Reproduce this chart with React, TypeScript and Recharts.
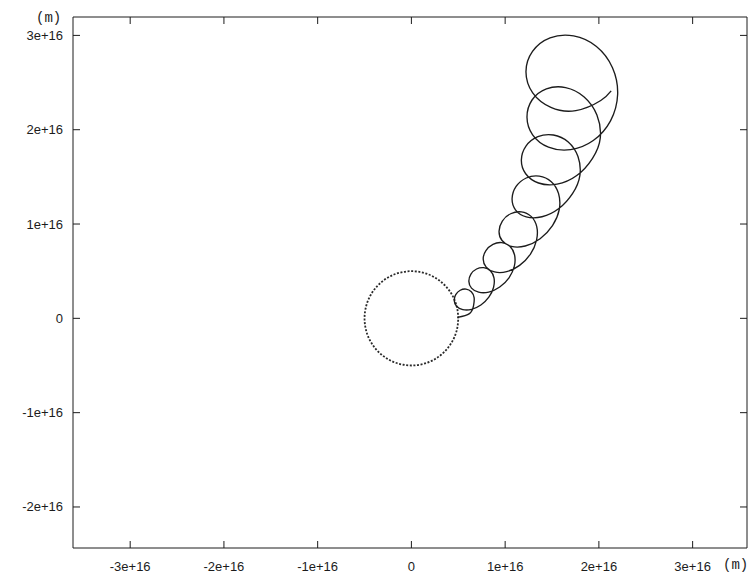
import { LineChart, Line, XAxis, YAxis } from 'recharts'

// every value below is in units of 1e16 m
const xTicks = [-3, -2, -1, 0, 1, 2, 3]
const yTicks = [-2, -1, 0, 1, 2, 3]
const xRange = [-3.61, 3.58]
const yRange = [-2.435, 3.195]

// starting orbit (dotted), radius about 0.5e16
const circleX = [
  0.5, 0.492, 0.47, 0.433, 0.383, 0.321, 0.25, 0.171, 0.087, 0, -0.087, -0.171, -0.25, -0.321, -0.383, -0.433,
  -0.47, -0.492, -0.5, -0.492, -0.47, -0.433, -0.383, -0.321, -0.25, -0.171, -0.087, 0, 0.087, 0.171, 0.25, 0.321,
  0.383, 0.433, 0.47, 0.492, 0.5,
]
const circleY = [
  0, 0.087, 0.171, 0.25, 0.321, 0.383, 0.433, 0.47, 0.492, 0.5, 0.492, 0.47, 0.433, 0.383, 0.321, 0.25, 0.171,
  0.087, 0, -0.087, -0.171, -0.25, -0.321, -0.383, -0.433, -0.47, -0.492, -0.5, -0.492, -0.47, -0.433, -0.383,
  -0.321, -0.25, -0.171, -0.087, 0,
]

// looping path leaving the orbit (one row per loop)
const pathX = [
  0.49,
  0.619, 0.663, 0.669, 0.639, 0.583, 0.521, 0.473, 0.457, 0.482, 0.548, 0.641, 0.741, 0.826,
  0.876, 0.881, 0.842, 0.772, 0.695, 0.635, 0.613, 0.641, 0.717, 0.825, 0.942, 1.041,
  1.098, 1.1, 1.05, 0.964, 0.87, 0.795, 0.766, 0.798, 0.887, 1.016, 1.154, 1.27,
  1.335, 1.337, 1.277, 1.173, 1.059, 0.97, 0.935, 0.967, 1.067, 1.214, 1.373, 1.505,
  1.577, 1.57, 1.492, 1.364, 1.225, 1.117, 1.074, 1.11, 1.225, 1.393, 1.573, 1.72,
  1.797, 1.777, 1.673, 1.515, 1.349, 1.222, 1.173, 1.219, 1.356, 1.554, 1.764, 1.932,
  2.015, 1.979, 1.843, 1.645, 1.44, 1.287, 1.233, 1.293, 1.462, 1.698, 1.94, 2.124,
  2.2, 2.145, 1.974, 1.73, 1.479, 1.292, 1.222, 1.294, 1.488, 1.754, 2.02, 2.131,
]
const pathY = [
  0.01,
  0.05, 0.136, 0.22, 0.282, 0.31, 0.298, 0.252, 0.188, 0.129, 0.093, 0.095, 0.141, 0.224,
  0.327, 0.428, 0.504, 0.537, 0.523, 0.469, 0.392, 0.32, 0.277, 0.278, 0.332, 0.43,
  0.553, 0.674, 0.764, 0.803, 0.785, 0.719, 0.627, 0.543, 0.492, 0.495, 0.562, 0.681,
  0.829, 0.972, 1.081, 1.129, 1.109, 1.032, 0.924, 0.825, 0.763, 0.767, 0.844, 0.984,
  1.152, 1.322, 1.449, 1.508, 1.488, 1.398, 1.27, 1.151, 1.076, 1.077, 1.164, 1.325,
  1.514, 1.715, 1.87, 1.944, 1.926, 1.826, 1.678, 1.533, 1.435, 1.423, 1.514, 1.697,
  1.914, 2.156, 2.348, 2.447, 2.433, 2.315, 2.132, 1.946, 1.815, 1.788, 1.885, 2.094,
  2.373, 2.658, 2.883, 2.995, 2.974, 2.831, 2.615, 2.391, 2.237, 2.203, 2.31, 2.411,
]

const rows = [
  ...circleX.map((x, i) => ({ x, circle: circleY[i] })),
  ...pathX.map((x, i) => ({ x, path: pathY[i] })),
]

const ink = '#1c1c1c'
const font = '"Liberation Sans", Arial, sans-serif'
const fmt = (v: number) => (v === 0 ? '0' : `${v}e+16`)

// gnuplot style: ticks point inwards on all four sides
function BottomTick({ x, y, payload }: any) {
  return (
    <g>
      <line x1={x} x2={x} y1={y - 18} y2={y - 25} stroke={ink} />
      <text x={x} y={y} textAnchor="middle" dominantBaseline="central" fontSize={13} fontFamily={font} fill={ink}>
        {fmt(payload.value)}
      </text>
    </g>
  )
}

function LeftTick({ x, y, payload }: any) {
  return (
    <g>
      <line x1={x + 10} x2={x + 17} y1={y} y2={y} stroke={ink} />
      <text x={x} y={y} textAnchor="end" dominantBaseline="central" fontSize={13} fontFamily={font} fill={ink}>
        {fmt(payload.value)}
      </text>
    </g>
  )
}

const TopTick = ({ x, y }: any) => <line x1={x} x2={x} y1={y} y2={y + 7} stroke={ink} />
const RightTick = ({ x, y }: any) => <line x1={x} x2={x - 7} y1={y} y2={y} stroke={ink} />

const unitStyle = { position: 'absolute', font: '14px "Liberation Mono", monospace', color: ink } as const

export default function App() {
  return (
    <div style={{ position: 'absolute', left: 0, top: 0, width: 754, height: 577, background: '#fff' }}>
      <LineChart width={754} height={577} data={rows} margin={{ top: 16, right: 3, bottom: 0, left: 0 }}>
        <XAxis
          xAxisId="b"
          dataKey="x"
          type="number"
          domain={xRange}
          ticks={xTicks}
          interval={0}
          allowDataOverflow
          height={29}
          tickSize={0}
          tickMargin={18}
          tickLine={false}
          axisLine={{ stroke: ink }}
          tick={BottomTick}
        />
        <XAxis
          xAxisId="t"
          orientation="top"
          dataKey="x"
          type="number"
          domain={xRange}
          ticks={xTicks}
          interval={0}
          allowDataOverflow
          height={1}
          tickSize={0}
          tickMargin={0}
          tickLine={false}
          axisLine={{ stroke: ink }}
          tick={TopTick}
        />
        <YAxis
          yAxisId="l"
          type="number"
          domain={yRange}
          ticks={yTicks}
          interval={0}
          allowDataOverflow
          width={73}
          tickSize={0}
          tickMargin={10}
          tickLine={false}
          axisLine={{ stroke: ink }}
          tick={LeftTick}
        />
        <YAxis
          yAxisId="r"
          orientation="right"
          type="number"
          domain={yRange}
          ticks={yTicks}
          interval={0}
          allowDataOverflow
          width={4}
          tickSize={0}
          tickMargin={0}
          tickLine={false}
          axisLine={{ stroke: ink }}
          tick={RightTick}
        />
        <Line
          xAxisId="b"
          yAxisId="l"
          dataKey="circle"
          type="natural"
          stroke="#2a2a2a"
          strokeWidth={1.8}
          strokeDasharray="2 1.6"
          dot={false}
          activeDot={false}
          isAnimationActive={false}
        />
        <Line
          xAxisId="b"
          yAxisId="l"
          dataKey="path"
          type="natural"
          stroke={ink}
          strokeWidth={1.35}
          dot={false}
          activeDot={false}
          isAnimationActive={false}
        />
      </LineChart>
      <div style={{ ...unitStyle, left: 36, top: 10 }}>(m)</div>
      <div style={{ ...unitStyle, left: 723, top: 557 }}>(m)</div>
    </div>
  )
}
